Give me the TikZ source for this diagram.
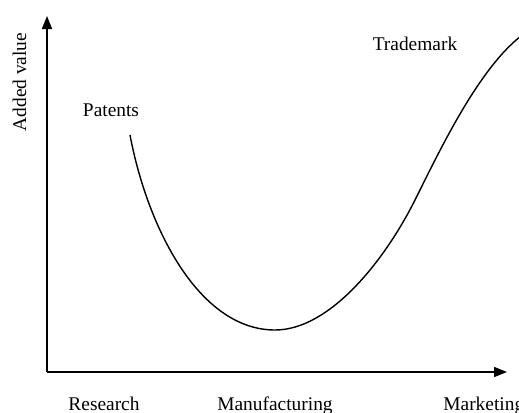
\documentclass[tikz,border=0pt]{standalone}
\usepackage{fontspec}
\setmainfont{Liberation Serif}
\usetikzlibrary{arrows.meta}

\tikzset{
	lbl/.style={font=\fontsize{9.7}{11}\selectfont, inner sep=0pt},
	axis/.style={line width=0.8pt, -{Triangle[length=6.5pt,width=5pt]}}
}

\begin{document}
\begin{tikzpicture}[x=0.5pt, y=-0.5pt]
		\useasboundingbox (0,0) rectangle (519,412);
		\coordinate (origin) at (47,372);
		\coordinate (ytip) at (47,16);
		\coordinate (xtip) at (507,372);
		\draw [axis](origin) -- (ytip);
		\draw [axis](origin) -- (xtip);
		\node [lbl, rotate=90] (value) at (19.5,82) {Added value};
		\node [lbl] (patents) at (111,110) {Patents};
		\node [lbl] (trademark) at (415,44) {Trademark};
		\node [lbl, anchor=base] (research) at (104,410) {Research};
		\node [lbl, anchor=base] (manufacturing) at (275,410) {Manufacturing};
		\node [lbl, anchor=base west] (marketing) at (443,410) {Marketing};
		% value curve
		\coordinate (start) at (130,135);
		\coordinate (low) at (275,330);
		\coordinate (turn) at (415,200);
		\coordinate (high) at (525,33);
		\draw [line width=0.7pt](start) .. controls (148,230) and (200,330) .. (low)
			.. controls (330,330) and (385,260) .. (turn)
			.. controls (440,150) and (480,65) .. (high);
	\end{tikzpicture}
\end{document}
